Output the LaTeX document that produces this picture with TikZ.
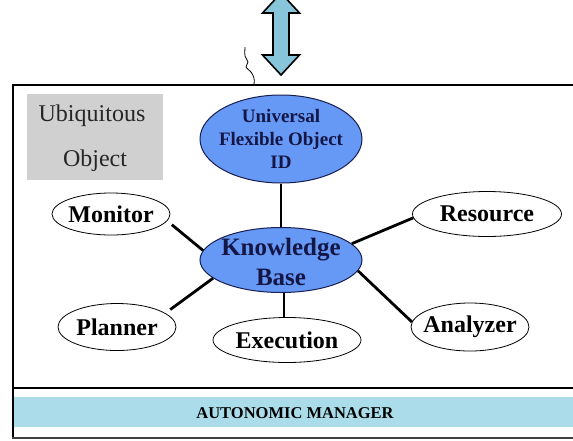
\documentclass[tikz,border=0pt]{standalone}
\usepackage{fontspec}
\setmainfont{Liberation Serif}
\usetikzlibrary{shapes.geometric}
\definecolor{kbblue}{RGB}{102,153,245}
\definecolor{kbline}{RGB}{25,30,80}
\definecolor{kbtext}{RGB}{20,22,70}
\definecolor{bandblue}{RGB}{170,220,234}
\definecolor{arrowfill}{RGB}{135,198,218}
\definecolor{graybox}{RGB}{208,208,208}
\begin{document}
\begin{tikzpicture}[x=1pt,y=-1pt,
  wnode/.style={ellipse, draw=black, line width=0.8pt, fill=white, inner sep=0pt,
    font=\fontsize{24}{28}\selectfont\bfseries},
  bnode/.style={ellipse, draw=kbline, line width=1pt, fill=kbblue, inner sep=0pt},
  link/.style={line width=2.8pt, black},
  thinlink/.style={line width=1.2pt, black}]
\useasboundingbox (0,0) rectangle (573,440);

% exchange arrow above the frame
\draw[line width=1.6pt, fill=arrowfill, line join=miter]
  (281,-7) -- (299.5,13) -- (289,13) -- (289,55) -- (299.5,55) -- (281,75)
  -- (262.5,55) -- (273,55) -- (273,13) -- (262.5,13) -- cycle;

% wavy lead into the frame
\draw[line width=0.8pt] plot[smooth] coordinates
  {(245,47) (245,56) (248,62) (246,67) (251,72) (254,78) (254,85)};

% outer frame of the ubiquitous object
\draw[line width=2pt] (576,85) -- (13,85) -- (13,438);
\draw[line width=1.4pt, black!75] (12,438) -- (576,438);
\draw[line width=2.5pt] (13,388) -- (576,388);

% autonomic manager band
\fill[bandblue] (14,397) rectangle (576,427);
\node[font=\fontsize{16.5}{18}\selectfont\bfseries] (am) at (295,413) {AUTONOMIC MANAGER};

% ubiquitous object tag
\fill[graybox] (27,94) rectangle (163,180);
\node[font=\fontsize{24}{28}\selectfont, text=black!85] (ubi) at (92,116) {Ubiquitous};
\node[font=\fontsize{24}{28}\selectfont, text=black!85] (obj) at (95,161) {Object};

% central ellipses
\node[bnode, minimum width=162pt, minimum height=88pt] (ufo) at (281,139) {};
\node[align=center, text=kbtext, font=\fontsize{19}{23}\selectfont\bfseries] (ufotext) at (ufo)
  {Universal\\Flexible Object\\ID};
\node[bnode, minimum width=162pt, minimum height=65pt] (kb) at (281,260) {};
\node[align=center, text=kbtext, font=\fontsize{25}{30}\selectfont\bfseries] (kbtext) at (281,262)
  {Knowledge\\Base};

% surrounding functions
\node[wnode, minimum width=118pt, minimum height=42pt] (monitor) at (111,214) {\makebox[0pt]{Monitor}};
\node[wnode, minimum width=149pt, minimum height=45pt] (resource) at (487,214) {\makebox[0pt]{Resource}};
\node[wnode, minimum width=118pt, minimum height=47pt] (planner) at (117,327) {\makebox[0pt]{Planner}};
\node[wnode, minimum width=148pt, minimum height=45pt] (execution) at (287,340) {\makebox[0pt]{Execution}};
\node[wnode, minimum width=118pt, minimum height=48pt] (analyzer) at (470,327) {\makebox[0pt]{Analyzer}};

% connectors
\draw[thinlink] (ufo.south) -- (kb.north);
\draw[link, shorten <=6pt] (monitor.-7) -- (kb.173);
\draw[link] (resource.183) -- (kb.13);
\draw[link, shorten <=6pt] (planner.16) -- (kb.195);
\draw[link] (kb.-8) -- (analyzer.175);
\draw[link] ([xshift=3pt]kb.south) -- ([xshift=3pt]kb.south |- execution.north);
\end{tikzpicture}
\end{document}
